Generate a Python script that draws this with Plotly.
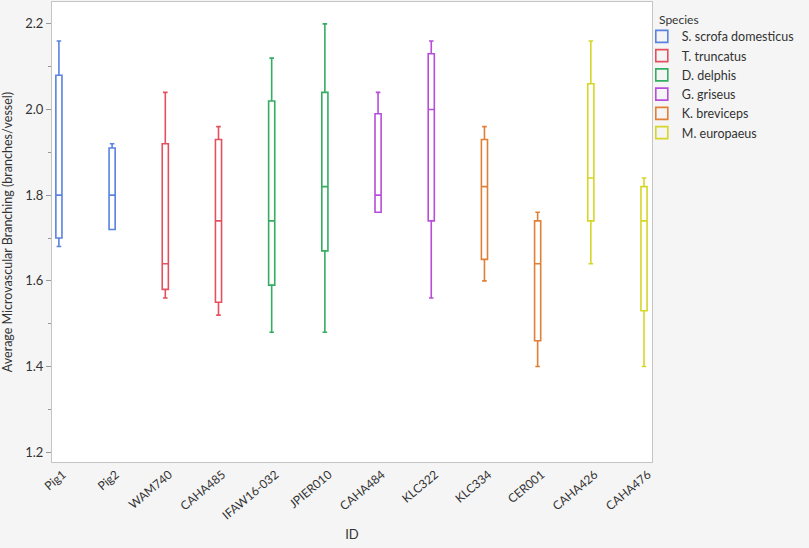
import plotly.graph_objects as go

# values (branches/vessel)
ids = ["Pig1", "Pig2", "WAM740", "CAHA485", "IFAW16-032", "JPIER010",
       "CAHA484", "KLC322", "KLC334", "CER001", "CAHA426", "CAHA476"]
species_of_id = ["S. scrofa domesticus", "S. scrofa domesticus",
                 "T. truncatus", "T. truncatus",
                 "D. delphis", "D. delphis",
                 "G. griseus", "G. griseus",
                 "K. breviceps", "K. breviceps",
                 "M. europaeus", "M. europaeus"]

low = [1.68, 1.72, 1.56, 1.52, 1.48, 1.48, 1.76, 1.56, 1.60, 1.40, 1.64, 1.40]
q1 = [1.70, 1.72, 1.58, 1.55, 1.59, 1.67, 1.76, 1.74, 1.65, 1.46, 1.74, 1.53]
med = [1.80, 1.80, 1.64, 1.74, 1.74, 1.82, 1.80, 2.00, 1.82, 1.64, 1.84, 1.74]
q3 = [2.08, 1.91, 1.92, 1.93, 2.02, 2.04, 1.99, 2.13, 1.93, 1.74, 2.06, 1.82]
high = [2.16, 1.92, 2.04, 1.96, 2.12, 2.20, 2.04, 2.16, 1.96, 1.76, 2.16, 1.84]

species = ["S. scrofa domesticus", "T. truncatus", "D. delphis",
           "G. griseus", "K. breviceps", "M. europaeus"]
colors = ["#5a82e0", "#e4505f", "#34ad62", "#b84ddc", "#e27f36", "#d6d628"]

fig = go.Figure()

for sp, col in zip(species, colors):
    idx = [i for i, s in enumerate(species_of_id) if s == sp]
    fig.add_trace(go.Box(
        name=sp,
        x=[ids[i] for i in idx],
        lowerfence=[low[i] for i in idx],
        q1=[q1[i] for i in idx],
        median=[med[i] for i in idx],
        q3=[q3[i] for i in idx],
        upperfence=[high[i] for i in idx],
        line=dict(color=col, width=1.6),
        fillcolor="rgba(0,0,0,0)",
        width=0.115,
        whiskerwidth=0.75,
        hoverinfo="x+y",
    ))

# legend title drawn as an annotation so the items can sit closer to it
fig.add_annotation(
    text="Species", xref="paper", yref="paper",
    x=1.008, y=0.963, xanchor="left", yanchor="middle",
    showarrow=False, font=dict(size=12, color="#333333"),
)

fig.update_layout(
    width=809,
    height=548,
    paper_bgcolor="#f5f5f5",
    plot_bgcolor="white",
    boxmode="overlay",
    margin=dict(l=52, r=157, t=2, b=86),
    font=dict(family="Lato", size=12, color="#333333"),
    legend=dict(
        x=0.983, xanchor="left",
        y=0.957, yanchor="top",
        bgcolor="rgba(0,0,0,0)",
        font=dict(size=12.5),
        tracegroupgap=0,
        itemwidth=30,
    ),
    xaxis=dict(
        title=dict(text="ID", font=dict(size=13), standoff=8),
        categoryorder="array",
        categoryarray=ids,
        range=[-0.13, 11.15],
        tickangle=-40,
        automargin=False,
        showgrid=False,
        showline=True,
        linecolor="#c4c4c4",
        mirror=True,
        ticks="",
        ticklabelshift=4,
        tickfont=dict(size=12),
    ),
    yaxis=dict(
        title=dict(text="Average Microvascular Branching (branches/vessel)", font=dict(size=12.5)),
        range=[1.177, 2.251],
        tickvals=[1.2, 1.4, 1.6, 1.8, 2.0, 2.2],
        ticktext=["1.2", "1.4", "1.6", "1.8", "2.0", "2.2"],
        ticks="outside",
        ticklen=5,
        tickcolor="#999999",
        minor=dict(dtick=0.1, tick0=1.1, ticks="outside", ticklen=3, tickcolor="#999999"),
        automargin=False,
        showgrid=False,
        zeroline=False,
        showline=True,
        linecolor="#c4c4c4",
        mirror=True,
        tickfont=dict(size=13),
    ),
)

# the page body has a default 8px margin; remove it so the figure fills the window
fig.write_html("out.html", config={"displayModeBar": False},
               post_script="document.body.style.margin='0';")
